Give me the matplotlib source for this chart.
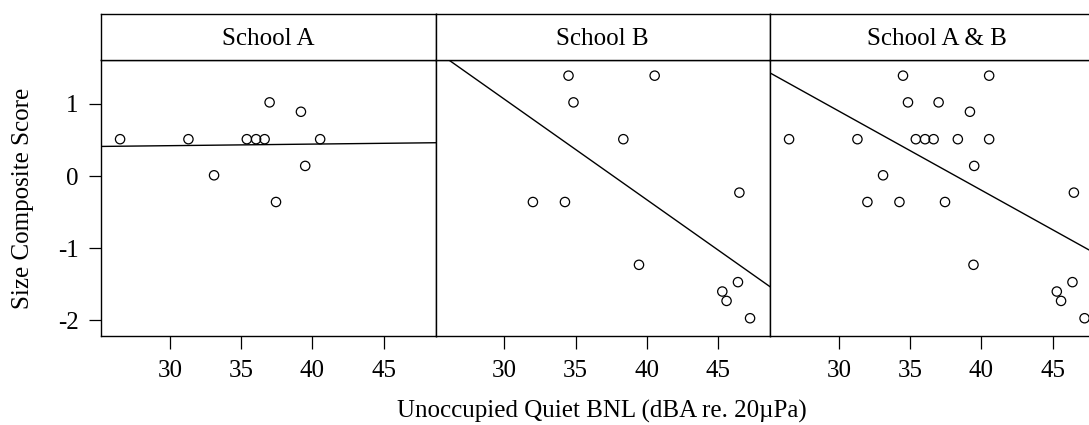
import matplotlib
matplotlib.use('Agg')
import matplotlib.pyplot as plt
import numpy as np

plt.rcParams['font.family'] = ['Liberation Serif', 'DejaVu Serif']
plt.rcParams['axes.unicode_minus'] = False

# Unoccupied quiet BNL (dBA) and size composite score, per school
school_a_bnl = [26.5, 31.3, 33.1, 35.4, 36.05, 36.65, 37.0, 37.45, 39.2, 39.5, 40.55]
school_a_score = [0.51, 0.51, 0.01, 0.51, 0.51, 0.51, 1.02, -0.36, 0.89, 0.14, 0.51]

school_b_bnl = [34.5, 40.55, 34.85, 38.35, 32.0, 34.25, 46.5, 39.45, 46.4, 45.3, 45.6, 47.25]
school_b_score = [1.39, 1.39, 1.02, 0.51, -0.36, -0.36, -0.23, -1.23, -1.47, -1.60, -1.73, -1.97]

panel_titles = ['School A', 'School B', 'School A & B']
x_ticks = [30, 35, 40, 45]
y_ticks = [-2, -1, 0, 1]

panels = [
    (school_a_bnl, school_a_score),
    (school_b_bnl, school_b_score),
    (school_a_bnl + school_b_bnl, school_a_score + school_b_score),
]

W, H = 1089, 425
fig = plt.figure(figsize=(W / 100, H / 100), dpi=100)

left = 101
pw = 334.5
bottom = 336
top = 60
strip_top = 13.5
fs = 18

for i, (title, (x, y)) in enumerate(zip(panel_titles, panels)):
    x0 = left + i * pw
    ax = fig.add_axes([x0 / W, 1 - bottom / H, pw / W, (bottom - top) / H])
    ax.scatter(x, y, s=45, facecolors='none', edgecolors='black', linewidths=0.9, zorder=3)
    slope, icpt = np.polyfit(x, y, 1)
    xl = np.array([25.16, 48.65])
    ax.plot(xl, icpt + slope * xl, color='black', lw=1.0)
    ax.set_xlim(25.16, 48.65)
    ax.set_ylim(-2.216, 1.607)
    ax.set_xticks(x_ticks)
    ax.tick_params(axis='x', direction='out', length=9.5, width=0.9, pad=8, labelsize=fs)
    if i == 0:
        ax.set_yticks(y_ticks)
        ax.tick_params(axis='y', direction='out', length=9, width=0.9, pad=7, labelsize=fs)
    else:
        ax.set_yticks([])
    for s in ax.spines.values():
        s.set_linewidth(1.0)

    sax = fig.add_axes([x0 / W, 1 - top / H, pw / W, (top - strip_top) / H])
    sax.set_xticks([])
    sax.set_yticks([])
    for s in sax.spines.values():
        s.set_linewidth(1.0)
    sax.text(0.5, 0.45, title, ha='center', va='center', fontsize=fs, transform=sax.transAxes)

fig.text(602 / W, 1 - 411 / H, 'Unoccupied Quiet BNL (dBA re. 20\u00b5Pa)', ha='center', va='center', fontsize=fs)
fig.text(23 / W, 1 - 198 / H, 'Size Composite Score', ha='center', va='center', rotation=90, fontsize=fs)

fig.savefig('out.png', dpi=100)
